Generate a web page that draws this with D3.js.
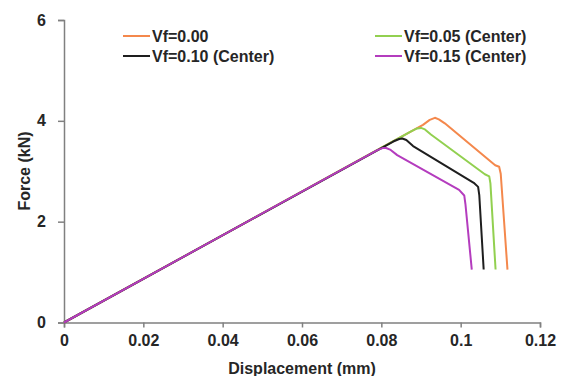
<!DOCTYPE html>
<html>
<head>
<meta charset="utf-8">
<script src="https://cdn.jsdelivr.net/npm/d3@7"></script>
<style>
body { margin: 0; background: #fff; }
svg { display: block; }
text { font-family: "Liberation Sans", Arial, sans-serif; font-weight: bold; fill: #262626; }
</style>
</head>
<body>
<svg width="567" height="376"></svg>
<script>
const seriesNames = ["Vf=0.00", "Vf=0.05 (Center)", "Vf=0.10 (Center)", "Vf=0.15 (Center)"];
const seriesColors = ["#f4884c", "#92d050", "#1e1e1e", "#b43cbe"];

// [displacement (mm), force (kN)]
const vf000 = [[0, 0], [0.0905, 3.92], [0.0922, 4.02], [0.0935, 4.06], [0.0945, 4.03], [0.0960, 3.95], [0.1087, 3.12], [0.1097, 3.09], [0.1101, 2.95], [0.1118, 1.05]];
const vf005 = [[0, 0], [0.0875, 3.79], [0.0890, 3.85], [0.0900, 3.86], [0.0910, 3.83], [0.0925, 3.73], [0.1061, 2.94], [0.1072, 2.90], [0.1075, 2.76], [0.1088, 1.05]];
const vf010 = [[0, 0], [0.0830, 3.59], [0.0845, 3.64], [0.0853, 3.65], [0.0863, 3.62], [0.0880, 3.50], [0.1033, 2.77], [0.1044, 2.69], [0.1047, 2.52], [0.1058, 1.05]];
const vf015 = [[0, 0], [0.0790, 3.42], [0.0803, 3.46], [0.0812, 3.46], [0.0822, 3.43], [0.0840, 3.32], [0.0996, 2.63], [0.1009, 2.52], [0.1012, 2.35], [0.1028, 1.05]];
const allSeries = [vf000, vf005, vf010, vf015];

const xTicks = [0, 0.02, 0.04, 0.06, 0.08, 0.1, 0.12];
const yTicks = [0, 2, 4, 6];

const svg = d3.select("svg");
const x = d3.scaleLinear().domain([0, 0.12]).range([64, 540]);
const y = d3.scaleLinear().domain([0, 6]).range([322.5, 20]);

const xAxis = svg.append("g")
	.attr("transform", `translate(0,${y(0)})`)
	.call(d3.axisBottom(x).tickValues(xTicks).tickSizeOuter(0).tickSize(5).tickPadding(7)
		.tickFormat(d => String(+d.toFixed(2))));

const yAxis = svg.append("g")
	.attr("transform", `translate(${x(0)},0)`)
	.call(d3.axisLeft(y).tickValues(yTicks).tickSizeOuter(0).tickSize(6).tickPadding(12)
		.tickFormat(d => String(d)));

for (const ax of [xAxis, yAxis]) {
	ax.select(".domain").attr("stroke", "#808080").attr("stroke-width", 1.5);
	ax.selectAll(".tick line").attr("stroke", "#808080").attr("stroke-width", 1.5);
	ax.selectAll(".tick text").style("font-size", "16px").attr("fill", "#262626");
}

const line = d3.line().x(d => x(d[0])).y(d => y(d[1]));

svg.append("g")
	.selectAll("path")
	.data(allSeries)
	.join("path")
	.attr("d", line)
	.attr("fill", "none")
	.attr("stroke", (d, i) => seriesColors[i])
	.attr("stroke-width", 2)
	.attr("stroke-linejoin", "round");

// axis titles
svg.append("text")
	.attr("x", 302)
	.attr("y", 374)
	.attr("text-anchor", "middle")
	.style("font-size", "16px")
	.text("Displacement (mm)");

svg.append("text")
	.attr("transform", "translate(30,171) rotate(-90)")
	.attr("text-anchor", "middle")
	.style("font-size", "16px")
	.text("Force (kN)");

// legend
const legendPos = [[123, 36], [375, 36], [123, 56], [375, 56]];
const legend = svg.append("g")
	.selectAll("g")
	.data(seriesNames)
	.join("g")
	.attr("transform", (d, i) => `translate(${legendPos[i][0]},${legendPos[i][1]})`);

legend.append("line")
	.attr("x1", 0).attr("x2", 27)
	.attr("stroke", (d, i) => seriesColors[i])
	.attr("stroke-width", 2);

legend.append("text")
	.attr("x", 29)
	.attr("dy", "0.35em")
	.style("font-size", "16px")
	.text(d => d);
</script>
</body>
</html>
